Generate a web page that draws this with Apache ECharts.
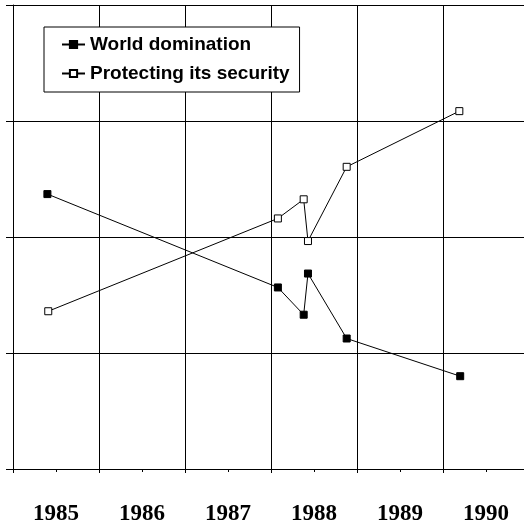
<!DOCTYPE html>
<html>
<head>
<meta charset="utf-8">
<script src="https://cdn.jsdelivr.net/npm/echarts@6/dist/echarts.min.js"></script>
<style>
html,body{margin:0;padding:0;background:#fff;}
#chart{width:524px;height:525px;}
</style>
</head>
<body>
<div id="chart"></div>
<script>
const yearLabels = ['1985', '1986', '1987', '1988', '1989', '1990'];
const seriesNames = ['World domination', 'Protecting its security'];
const worldX = [1985.40, 1988.08, 1988.38, 1988.43, 1988.88, 1990.20];
const worldY = [47.4, 31.3, 26.6, 33.7, 22.5, 16.0];
const securityX = [1985.41, 1988.08, 1988.38, 1988.43, 1988.88, 1990.19];
const securityY = [27.2, 43.2, 46.5, 39.3, 52.1, 61.7];

const pairs = (xs, ys) => xs.map((x, i) => [x, ys[i]]);

const chart = echarts.init(document.getElementById('chart'), null, {renderer: 'canvas'});
chart.setOption({
  animation: false,
  backgroundColor: '#fff',
  grid: {left: 13, top: 5, width: 516, height: 464, containLabel: false, outerBoundsMode: 'none'},
  legend: {
    left: 44, top: 27,
    orient: 'vertical',
    padding: [8, 10, 9, 17],
    itemGap: 10,
    itemWidth: 23, itemHeight: 9,
    backgroundColor: '#fff',
    borderColor: '#000', borderWidth: 1,
    textStyle: {fontFamily: '"Liberation Sans", Arial, sans-serif', fontWeight: 'bold', fontSize: 19, color: '#000'},
    data: seriesNames
  },
  xAxis: [
    {
      type: 'value', min: 1985, max: 1991, interval: 1,
      axisLine: {show: true, lineStyle: {color: '#000', width: 1}},
      axisTick: {show: true, length: 4, lineStyle: {color: '#000'}},
      minorTick: {show: true, splitNumber: 2, length: 3, lineStyle: {color: '#000'}},
      axisLabel: {show: false},
      splitLine: {show: true, lineStyle: {color: '#000', width: 1}}
    },
    {
      type: 'category', position: 'bottom', data: yearLabels,
      axisLine: {show: false}, axisTick: {show: false}, splitLine: {show: false},
      axisLabel: {show: true, margin: 34, color: '#000', fontFamily: '"Liberation Serif", "Times New Roman", serif', fontWeight: 'bold', fontSize: 23}
    }
  ],
  yAxis: {
    type: 'value', min: 0, max: 80, interval: 20,
    axisLine: {show: true, lineStyle: {color: '#000', width: 1}},
    axisTick: {show: true, length: 7, lineStyle: {color: '#000'}},
    axisLabel: {show: false},
    splitLine: {show: true, lineStyle: {color: '#000', width: 1}}
  },
  series: [
    {
      name: seriesNames[0], type: 'line', xAxisIndex: 0,
      data: pairs(worldX, worldY),
      symbol: 'rect', symbolSize: 7, showAllSymbol: true,
      lineStyle: {color: '#000', width: 1},
      itemStyle: {color: '#000', borderColor: '#000', borderWidth: 1},
      z: 5
    },
    {
      name: seriesNames[1], type: 'line', xAxisIndex: 0,
      data: pairs(securityX, securityY),
      symbol: 'rect', symbolSize: 7, showAllSymbol: true,
      lineStyle: {color: '#000', width: 1},
      itemStyle: {color: '#fff', borderColor: '#000', borderWidth: 1},
      z: 5
    }
  ]
});
</script>
</body>
</html>
